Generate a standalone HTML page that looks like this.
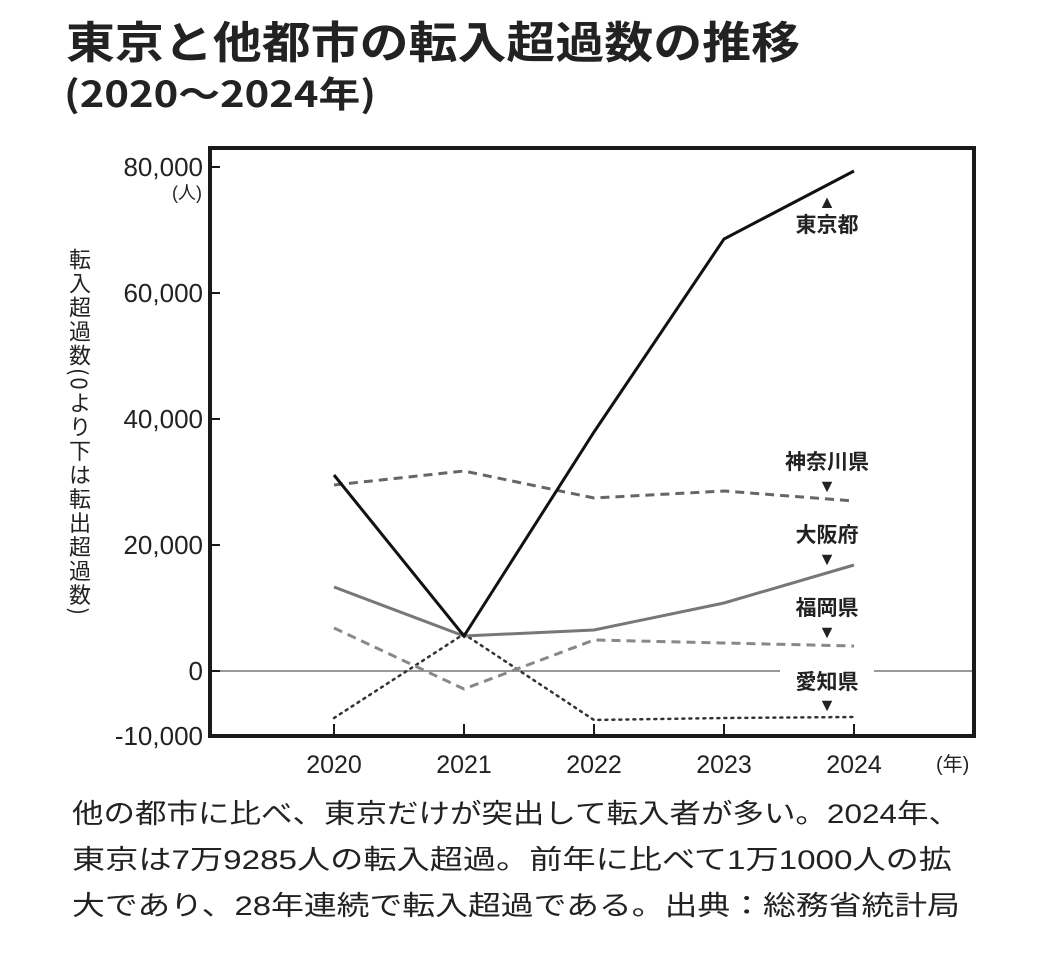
<!DOCTYPE html>
<html><head><meta charset="utf-8"><style>
body{margin:0;background:#fff;width:1040px;height:948px;overflow:hidden}
svg text{font-family:"Liberation Sans","Noto Sans CJK JP",sans-serif;fill:#222}
</style></head><body>
<svg width="1040" height="948" viewBox="0 0 1040 948">
<text x="66" y="58" font-size="44" font-weight="bold" textLength="734" lengthAdjust="spacingAndGlyphs" style="font-family:'Noto Sans CJK JP',sans-serif">東京と他都市の転入超過数の推移</text>
<text x="64" y="107" font-size="36" font-weight="bold" textLength="312" lengthAdjust="spacingAndGlyphs" style="font-family:'Noto Sans CJK JP',sans-serif">(2020〜2024年)</text>
<line x1="210" y1="671" x2="974" y2="671" stroke="#999" stroke-width="2"/>
<rect x="210" y="148" width="764" height="588" fill="none" stroke="#1a1a1a" stroke-width="4"/>
<g stroke="#1a1a1a" stroke-width="2">
<line x1="208" y1="167" x2="220" y2="167"/><line x1="208" y1="293" x2="220" y2="293"/><line x1="208" y1="419" x2="220" y2="419"/><line x1="208" y1="545" x2="220" y2="545"/><line x1="208" y1="671" x2="220" y2="671"/>
<line x1="334" y1="734" x2="334" y2="724"/><line x1="464" y1="734" x2="464" y2="724"/><line x1="594" y1="734" x2="594" y2="724"/><line x1="724" y1="734" x2="724" y2="724"/><line x1="854" y1="734" x2="854" y2="724"/>
</g>
<g font-size="26" text-anchor="end">
<text x="203" y="176">80,000</text><text x="203" y="302">60,000</text><text x="203" y="428">40,000</text><text x="203" y="554">20,000</text><text x="203" y="680">0</text><text x="203" y="745">-10,000</text>
</g>
<text x="202" y="199" font-size="18" text-anchor="end">(人)</text>
<text x="80" y="248" font-size="22" style="writing-mode:vertical-rl;font-family:'Noto Sans CJK JP',sans-serif;letter-spacing:2px">転入超過数(0より下は転出超過数)</text>
<g font-size="25" text-anchor="middle">
<text x="334" y="773">2020</text><text x="464" y="773">2021</text><text x="594" y="773">2022</text><text x="724" y="773">2023</text><text x="854" y="773">2024</text>
</g>
<text x="936" y="771" font-size="20">(年)</text>
<polyline points="334,718 464,634 594,720 724,718 854,717" fill="none" stroke="#333" stroke-width="2.5" stroke-dasharray="2,5" stroke-linecap="round"/>
<polyline points="334,628 464,689 594,640 724,643 854,646" fill="none" stroke="#888" stroke-width="3" stroke-dasharray="9,6"/>
<polyline points="334,587 464,636 594,630 724,603 854,565" fill="none" stroke="#777" stroke-width="3"/>
<polyline points="334,485 464,471 594,498 724,491 854,501" fill="none" stroke="#666" stroke-width="3" stroke-dasharray="9,6"/>
<polyline points="334,475 464,636 594,432 724,239 854,171" fill="none" stroke="#111" stroke-width="3"/>
<rect x="780" y="663" width="94" height="14" fill="#fff"/>
<g font-size="21" font-weight="bold" text-anchor="middle" style="font-family:'Noto Sans CJK JP',sans-serif">
<text x="827" y="232">東京都</text><text x="827" y="208" font-size="18">▲</text>
<text x="827" y="469">神奈川県</text><text x="827" y="492" font-size="18">▼</text>
<text x="827" y="542">大阪府</text><text x="827" y="565" font-size="18">▼</text>
<text x="827" y="615">福岡県</text><text x="827" y="638" font-size="18">▼</text>
<text x="827" y="689">愛知県</text><text x="827" y="711" font-size="18">▼</text>
</g>
<g font-size="27">
<text x="72" y="823" textLength="888" lengthAdjust="spacingAndGlyphs">他の都市に比べ、東京だけが突出して転入者が多い。2024年、</text>
<text x="72" y="869" textLength="880" lengthAdjust="spacingAndGlyphs">東京は7万9285人の転入超過。前年に比べて1万1000人の拡</text>
<text x="72" y="915" textLength="888" lengthAdjust="spacingAndGlyphs">大であり、28年連続で転入超過である。出典：総務省統計局</text>
</g>
</svg>
</body></html>
